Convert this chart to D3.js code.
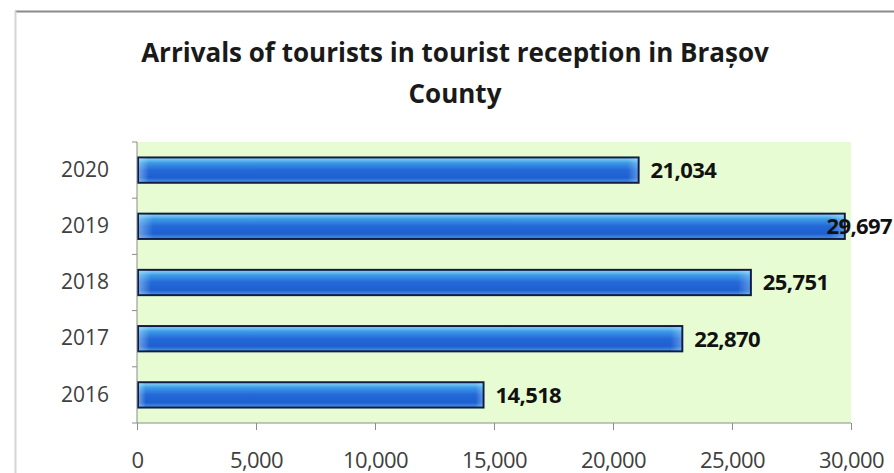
<!DOCTYPE html>
<html>
<head>
<meta charset="utf-8">
<script src="https://cdn.jsdelivr.net/npm/d3@7"></script>
<style>
  body { margin: 0; background: #fff; }
  svg { display: block; }
</style>
</head>
<body>
<svg id="chart"></svg>
<script>
const years = ["2020", "2019", "2018", "2017", "2016"];
const arrivals = [21034, 29697, 25751, 22870, 14518];
const xTicks = [0, 5000, 10000, 15000, 20000, 25000, 30000];
const titleLines = ["Arrivals of tourists in tourist reception in Brașov", "County"];

const width = 894, height = 473;
const margin = {top: 142, right: 43, bottom: 50, left: 137};
const font = "'Open Sans', sans-serif";
const fmt = d3.format(",");

const svg = d3.select("#chart").attr("width", width).attr("height", height);

// frame of the chart object
svg.append("line").attr("x1", 15).attr("x2", width).attr("y1", 11.5).attr("y2", 11.5)
    .attr("stroke", "#8a8a8a").attr("stroke-width", 2);
svg.append("line").attr("x1", 15.5).attr("x2", 15.5).attr("y1", 11).attr("y2", height)
    .attr("stroke", "#d4d4d4").attr("stroke-width", 2);

const defs = svg.append("defs");
const grad = defs.append("linearGradient").attr("id", "barGrad")
    .attr("x1", 0).attr("y1", 0).attr("x2", 0).attr("y2", 1);
[[0, "#8fdcfa"], [0.22, "#3c98e6"], [0.5, "#2468d8"], [0.8, "#1f5fd0"], [1, "#4a9ce4"]]
    .forEach(([o, c]) => grad.append("stop").attr("offset", o).attr("stop-color", c));
const gradX = defs.append("linearGradient").attr("id", "barEdge")
    .attr("x1", 0).attr("y1", 0).attr("x2", 1).attr("y2", 0);
[[0, "#bfeaff", 0.45], [0.02, "#bfeaff", 0], [0.98, "#bfeaff", 0], [1, "#bfeaff", 0.35]]
    .forEach(([o, c, a]) => gradX.append("stop").attr("offset", o).attr("stop-color", c).attr("stop-opacity", a));

const x = d3.scaleLinear().domain([0, 30000]).range([margin.left, width - margin.right]);
const y = d3.scaleBand().domain(years).range([margin.top, height - margin.bottom]).paddingInner(0.55).paddingOuter(0.275);

// plot area
svg.append("rect")
    .attr("x", x(0)).attr("y", margin.top)
    .attr("width", x(30000) - x(0)).attr("height", height - margin.bottom - margin.top)
    .attr("fill", "#e7fcd2");

// title
svg.append("text")
    .attr("x", 455).attr("y", 62)
    .attr("text-anchor", "middle")
    .style("font-family", font)
    .style("font-weight", "bold").style("font-size", "26px").attr("fill", "#1a1a1a")
    .selectAll("tspan").data(titleLines).join("tspan")
    .attr("x", 455).attr("dy", (d, i) => i === 0 ? 0 : 41)
    .text(d => d);

// bars
const bars = svg.append("g");
bars.selectAll("rect.bar").data(arrivals).join("rect")
    .attr("class", "bar")
    .attr("x", x(0) + 1)
    .attr("y", (d, i) => y(years[i]))
    .attr("width", d => x(d) - x(0))
    .attr("height", y.bandwidth())
    .attr("fill", "url(#barGrad)")
    .attr("stroke", "#111c44").attr("stroke-width", 2);
bars.selectAll("rect.edge").data(arrivals).join("rect")
    .attr("class", "edge")
    .attr("x", x(0) + 2)
    .attr("y", (d, i) => y(years[i]) + 1)
    .attr("width", d => x(d) - x(0) - 2)
    .attr("height", y.bandwidth() - 2)
    .attr("fill", "url(#barEdge)");

// value labels
const labels = svg.append("g")
    .style("font-family", font).style("letter-spacing", "-0.6px")
    .style("font-weight", "bold").style("font-size", "22px").attr("fill", "#111");
arrivals.forEach((v, i) => {
    const t = labels.append("text")
        .attr("y", y(years[i]) + y.bandwidth() / 2)
        .attr("dy", "0.36em")
        .text(fmt(v));
    const w = t.node().getComputedTextLength();
    t.attr("x", Math.min(x(v) + 13, width - 2 - w));
});

// axes
const xAxis = svg.append("g")
    .attr("transform", `translate(0,${height - margin.bottom})`)
    .call(d3.axisBottom(x).tickValues(xTicks).tickSize(7).tickFormat(fmt).tickPadding(22));
xAxis.selectAll("line, path").attr("stroke", "#8c8c8c");
xAxis.selectAll(".tick text")
    .style("font-family", font).style("font-size", "22px").style("letter-spacing", "-0.6px")
    .attr("fill", "#404040");
xAxis.select(".domain").attr("d", `M${x(0)},0H${x(30000)}`);

const yAxis = svg.append("g")
    .attr("transform", `translate(${x(0)},0)`)
    .call(d3.axisLeft(y).tickSize(0).tickPadding(20));
yAxis.select(".domain").attr("stroke", "#8c8c8c").attr("d", `M0,${margin.top}V${height - margin.bottom}`);
yAxis.selectAll(".tick text")
    .style("font-family", font).style("font-size", "21px").attr("fill", "#404040")
    .attr("text-anchor", "middle").attr("x", -52);
const step = y.step();
const bounds = d3.range(years.length + 1).map(i => margin.top + i * step);
yAxis.selectAll("line.bound").data(bounds).join("line")
    .attr("class", "bound").attr("x1", -5).attr("x2", 0)
    .attr("y1", d => d).attr("y2", d => d).attr("stroke", "#8c8c8c");
</script>
</body>
</html>
